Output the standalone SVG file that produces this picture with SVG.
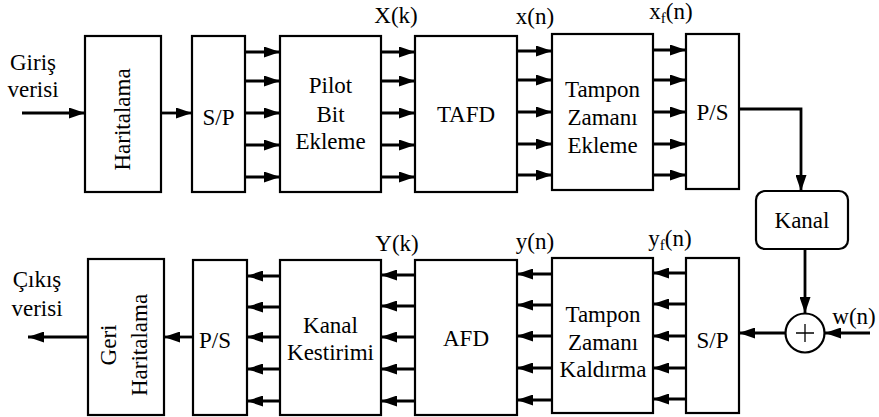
<svg xmlns="http://www.w3.org/2000/svg" width="879" height="417" viewBox="0 0 879 417" font-family="Liberation Serif, Times New Roman, serif" font-size="23" text-anchor="middle">
<defs>
<marker id="ah" markerUnits="userSpaceOnUse" markerWidth="16" markerHeight="11" refX="16" refY="5.5" orient="auto">
<path d="M0,0 L16,5.5 L0,11 z" fill="#000"/>
</marker>
<style>
.box{fill:#fff;stroke:#000;stroke-width:2.2}
.c{fill:none;stroke:#000;stroke-width:2.8;marker-end:url(#ah)}
.sub{font-size:15px}
</style>
</defs>
<rect width="879" height="417" fill="#fff"/>

<g id="connectors">
<line class="c" x1="22" y1="113" x2="85" y2="113"/>
<line class="c" x1="161" y1="113" x2="192" y2="113"/>
<line class="c" x1="245" y1="52" x2="280" y2="52"/>
<line class="c" x1="245" y1="81" x2="280" y2="81"/>
<line class="c" x1="245" y1="113" x2="280" y2="113"/>
<line class="c" x1="245" y1="145" x2="280" y2="145"/>
<line class="c" x1="245" y1="177" x2="280" y2="177"/>
<line class="c" x1="381" y1="52" x2="415" y2="52"/>
<line class="c" x1="381" y1="81" x2="415" y2="81"/>
<line class="c" x1="381" y1="113" x2="415" y2="113"/>
<line class="c" x1="381" y1="145" x2="415" y2="145"/>
<line class="c" x1="381" y1="177" x2="415" y2="177"/>
<line class="c" x1="517" y1="51" x2="552" y2="51"/>
<line class="c" x1="517" y1="80" x2="552" y2="80"/>
<line class="c" x1="517" y1="112" x2="552" y2="112"/>
<line class="c" x1="517" y1="144" x2="552" y2="144"/>
<line class="c" x1="517" y1="175" x2="552" y2="175"/>
<line class="c" x1="653" y1="50" x2="686" y2="50"/>
<line class="c" x1="653" y1="80" x2="686" y2="80"/>
<line class="c" x1="653" y1="112" x2="686" y2="112"/>
<line class="c" x1="653" y1="144" x2="686" y2="144"/>
<line class="c" x1="653" y1="175" x2="686" y2="175"/>
<polyline class="c" points="739,109 801,109 801,191"/>
<line class="c" x1="805" y1="249" x2="805" y2="313"/>
<line class="c" x1="870" y1="333" x2="825" y2="333"/>
<line class="c" x1="785" y1="333" x2="739" y2="333"/>
<line class="c" x1="686" y1="273" x2="653" y2="273"/>
<line class="c" x1="686" y1="304" x2="653" y2="304"/>
<line class="c" x1="686" y1="336" x2="653" y2="336"/>
<line class="c" x1="686" y1="368" x2="653" y2="368"/>
<line class="c" x1="686" y1="399" x2="653" y2="399"/>
<line class="c" x1="552" y1="274" x2="517" y2="274"/>
<line class="c" x1="552" y1="305" x2="517" y2="305"/>
<line class="c" x1="552" y1="336" x2="517" y2="336"/>
<line class="c" x1="552" y1="368" x2="517" y2="368"/>
<line class="c" x1="552" y1="400" x2="517" y2="400"/>
<line class="c" x1="415" y1="275" x2="381" y2="275"/>
<line class="c" x1="415" y1="306" x2="381" y2="306"/>
<line class="c" x1="415" y1="337" x2="381" y2="337"/>
<line class="c" x1="415" y1="369" x2="381" y2="369"/>
<line class="c" x1="415" y1="401" x2="381" y2="401"/>
<line class="c" x1="280" y1="276" x2="247" y2="276"/>
<line class="c" x1="280" y1="307" x2="247" y2="307"/>
<line class="c" x1="280" y1="337" x2="247" y2="337"/>
<line class="c" x1="280" y1="369" x2="247" y2="369"/>
<line class="c" x1="280" y1="401" x2="247" y2="401"/>
<line class="c" x1="193" y1="337" x2="164" y2="337"/>
<line class="c" x1="88" y1="337" x2="28" y2="337"/>
</g>

<g id="labels">
<text x="33" y="70">Giriş</text>
<text x="33" y="97">verisi</text>
<text x="396" y="23">X(k)</text>
<text x="535" y="24">x(n)</text>
<text x="671" y="19">x<tspan class="sub" dy="4">f</tspan><tspan dy="-4">(n)</tspan></text>
<text x="37" y="287">Çıkış</text>
<text x="37" y="316">verisi</text>
<text x="397" y="251">Y(k)</text>
<text x="535" y="249">y(n)</text>
<text x="670" y="246">y<tspan class="sub" dy="4">f</tspan><tspan dy="-4">(n)</tspan></text>
<text x="854" y="324">w(n)</text>
</g>

<g id="haritalama">
<rect class="box" x="85" y="36" width="76" height="156"/>
<text transform="translate(130,119.5) rotate(-90)">Haritalama</text>
</g>
<g id="sp1">
<rect class="box" x="192" y="36" width="53" height="156"/>
<text x="218.5" y="125">S/P</text>
</g>
<g id="pilot">
<rect class="box" x="280" y="36" width="101" height="156"/>
<text x="330.5" y="93">Pilot</text>
<text x="330.5" y="122">Bit</text>
<text x="330.5" y="149">Ekleme</text>
</g>
<g id="tafd">
<rect class="box" x="415" y="36" width="102" height="156"/>
<text x="466" y="122">TAFD</text>
</g>
<g id="tampon1">
<rect class="box" x="552" y="34" width="101" height="156"/>
<text x="602.5" y="97">Tampon</text>
<text x="602.5" y="125">Zamanı</text>
<text x="602.5" y="153">Ekleme</text>
</g>
<g id="ps1">
<rect class="box" x="686" y="34" width="53" height="155"/>
<text x="712.5" y="120">P/S</text>
</g>
<g id="kanal">
<rect class="box" x="756" y="191" width="92" height="58" rx="9"/>
<text x="802" y="228">Kanal</text>
</g>
<g id="adder">
<circle cx="805" cy="333" r="19.5" fill="#fff" stroke="#000" stroke-width="2.2"/>
<path d="M796,333 H814 M805,324 V342" stroke="#000" stroke-width="1.3" fill="none"/>
</g>
<g id="sp2">
<rect class="box" x="686" y="258" width="53" height="155"/>
<text x="712.5" y="348">S/P</text>
</g>
<g id="tampon2">
<rect class="box" x="552" y="258" width="101" height="155"/>
<text x="603" y="322">Tampon</text>
<text x="603" y="350">Zamanı</text>
<text x="603" y="377">Kaldırma</text>
</g>
<g id="afd">
<rect class="box" x="415" y="260" width="102" height="155"/>
<text x="466" y="346">AFD</text>
</g>
<g id="kestirim">
<rect class="box" x="280" y="260" width="101" height="155"/>
<text x="330.5" y="333">Kanal</text>
<text x="330.5" y="360">Kestirimi</text>
</g>
<g id="ps2">
<rect class="box" x="193" y="260" width="54" height="155"/>
<text x="215" y="348">P/S</text>
</g>
<g id="geri">
<rect class="box" x="88" y="259" width="76" height="156"/>
<text transform="translate(116,345) rotate(-90)">Geri</text>
<text transform="translate(147,345) rotate(-90)">Haritalama</text>
</g>
</svg>
